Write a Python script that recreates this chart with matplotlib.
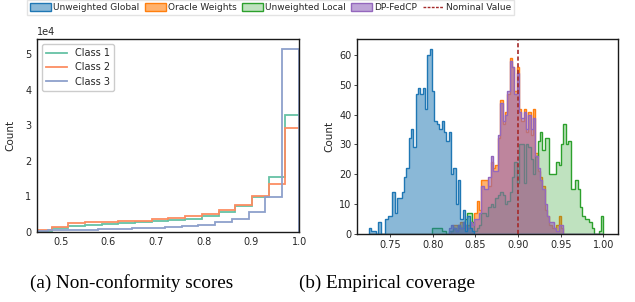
import numpy as np
import matplotlib
matplotlib.use("Agg")
import matplotlib.pyplot as plt
from matplotlib.patches import Patch
from matplotlib.lines import Line2D
from matplotlib.colors import to_rgba

# ---- (a) non-conformity scores: counts per bin (x 1e4) ----
edges_class12 = [0.446, 0.481, 0.516, 0.551, 0.586, 0.621, 0.656, 0.691, 0.726,
                 0.761, 0.796, 0.831, 0.866, 0.901, 0.936, 0.971, 1.006]
edges_class3 = [0.439, 0.474, 0.509, 0.544, 0.579, 0.614, 0.649, 0.684, 0.719,
                0.754, 0.789, 0.824, 0.859, 0.894, 0.929, 0.964, 0.999]
class1 = [0.03, 0.10, 0.17, 0.20, 0.22, 0.23, 0.26, 0.29, 0.33, 0.37, 0.44, 0.54, 0.72, 0.97, 1.55, 3.28]
class2 = [0.04, 0.13, 0.24, 0.26, 0.27, 0.29, 0.31, 0.35, 0.39, 0.43, 0.51, 0.60, 0.74, 0.99, 1.35, 2.93]
class3 = [0.01, 0.04, 0.05, 0.06, 0.07, 0.08, 0.09, 0.11, 0.13, 0.16, 0.20, 0.26, 0.36, 0.54, 0.97, 5.15]

# ---- (b) empirical coverage: counts per bin, 100 bins from 0.725 to 1.0 ----
cov_lo, cov_hi, cov_nbins = 0.725, 1.0, 100
unweighted_global = [2, 1, 1, 0, 4, 0, 0, 5, 6, 6, 14, 7, 12, 12, 14, 19, 22, 32, 35, 29,
                     47, 49, 47, 49, 42, 60, 62, 48, 38, 37, 35, 38, 34, 31, 34, 20, 22, 10, 18, 5,
                     8, 1, 6, 2, 1]
global_start = 0
oracle_weights = [0, 1, 3, 3, 2, 4, 2, 3, 3, 4, 4, 7, 11, 8, 18, 18, 18, 16, 24, 22,
                  23, 32, 45, 37, 41, 47, 59, 56, 48, 56, 42, 38, 42, 34, 41, 33, 42, 27, 21, 19,
                  16, 8, 6, 3, 2, 2, 3, 6, 2]
oracle_start = 34
unweighted_local = [0, 2, 2, 2, 2, 1, 1, 0, 1, 1, 2, 1, 3, 2, 4, 5, 7, 7, 4, 1,
                    2, 3, 7, 7, 6, 9, 10, 9, 12, 13, 14, 13, 10, 11, 14, 19, 24, 17, 30, 30,
                    17, 30, 29, 25, 20, 26, 31, 34, 28, 32, 32, 20, 20, 20, 24, 23, 30, 37, 30, 31,
                    15, 15, 18, 15, 9, 6, 5, 5, 4, 2, 0, 0, 1, 6]
local_start = 26
dp_fedcp = [2, 3, 2, 1, 3, 2, 4, 3, 2, 4, 3, 5, 5, 7, 16, 15, 15, 19, 26, 21,
            21, 33, 44, 38, 40, 48, 58, 56, 47, 54, 41, 39, 41, 35, 40, 35, 39, 26, 22, 18,
            15, 10, 6, 4, 4, 2, 1, 3, 3]
fedcp_start = 34
nominal = 0.9

labels = ["Unweighted Global", "Oracle Weights", "Unweighted Local", "DP-FedCP"]
colors = ["#1f77b4", "#ff7f0e", "#2ca02c", "#9467bd"]
alphas = [0.52, 0.6, 0.3, 0.6]

text_c = "#262626"
plt.rcParams["font.family"] = "DejaVu Sans"
plt.rcParams["text.color"] = text_c
plt.rcParams["axes.labelcolor"] = text_c
plt.rcParams["xtick.color"] = text_c
plt.rcParams["ytick.color"] = text_c

fig = plt.figure(figsize=(6.35, 3.02), dpi=100)

# left panel
ax1 = fig.add_axes([0.058, 0.233, 0.413, 0.637])
set2 = ["#66c2a5", "#fc8d62", "#8da0cb"]
ax1.stairs(np.array(class1) * 1e4, edges_class12, color=set2[0], lw=1.3, label="Class 1")
ax1.stairs(np.array(class2) * 1e4, edges_class12, color=set2[1], lw=1.3, label="Class 2")
ax1.stairs(np.array(class3) * 1e4, edges_class3, color=set2[2], lw=1.3, label="Class 3")
ax1.set_xlim(0.45, 1.0)
ax1.set_ylim(0, 5.42e4)
ax1.ticklabel_format(style="sci", axis="y", scilimits=(0, 0))
ax1.set_ylabel("Count", fontsize=7.5, labelpad=7)
ax1.tick_params(labelsize=7, length=0, pad=4)
ax1.yaxis.get_offset_text().set_fontsize(7)
for s in ax1.spines.values():
    s.set_color("#1a1a1a")
    s.set_linewidth(1.0)
ax1.legend(loc="upper left", fontsize=7, handlelength=2.2, borderpad=0.4,
           labelspacing=0.45, framealpha=1, edgecolor="#cccccc")

# right panel
ax2 = fig.add_axes([0.562, 0.225, 0.411, 0.645])
edges = np.linspace(cov_lo, cov_hi, cov_nbins + 1)
series = [(unweighted_global, global_start), (oracle_weights, oracle_start),
          (unweighted_local, local_start), (dp_fedcp, fedcp_start)]
order = [1, 2, 3, 0]
for i in order:
    vals, start = series[i]
    full = np.zeros(cov_nbins)
    full[start:start + len(vals)] = vals
    ax2.stairs(full, edges, fill=True, color=colors[i], alpha=alphas[i], lw=0)
    ax2.stairs(full, edges, color=colors[i], lw=1.0)
ax2.axvline(nominal, color="#a52a2a", ls="--", lw=1.2, dashes=(2.5, 1.5))
ax2.set_xlim(0.711, 1.017)
ax2.set_ylim(0, 65.2)
ax2.set_xticks([0.75, 0.80, 0.85, 0.90, 0.95, 1.00])
ax2.set_xticklabels(["0.75", "0.80", "0.85", "0.90", "0.95", "1.00"])
ax2.set_yticks([0, 10, 20, 30, 40, 50, 60])
ax2.set_ylabel("Count", fontsize=7.5, labelpad=3)
ax2.tick_params(labelsize=7, length=2, width=0.6, pad=2)
for s in ax2.spines.values():
    s.set_color("#1a1a1a")
    s.set_linewidth(1.0)

# shared legend on top
handles = [Patch(facecolor=to_rgba(c, a), edgecolor=c, lw=1) for c, a in zip(colors, alphas)]
handles.append(Line2D([0], [0], color="#a52a2a", ls="--", lw=1.0, dashes=(2, 1)))
fig.legend(handles, labels + ["Nominal Value"], loc="upper center",
           bbox_to_anchor=(0.426, 1.005), ncol=5, fontsize=6.5, frameon=True,
           fancybox=False, edgecolor="#dddddd", handlelength=2.3, handleheight=0.9,
           handletextpad=0.25, columnspacing=0.6, borderpad=0.3, borderaxespad=0.2)

# captions
fig.text(0.207, 0.062, "(a) Non-conformity scores", fontsize=13.8, family="Liberation Serif",
         color="black", ha="center", va="center")
fig.text(0.610, 0.062, "(b) Empirical coverage", fontsize=13.8, family="Liberation Serif",
         color="black", ha="center", va="center")

fig.savefig("out.png", dpi=100)
